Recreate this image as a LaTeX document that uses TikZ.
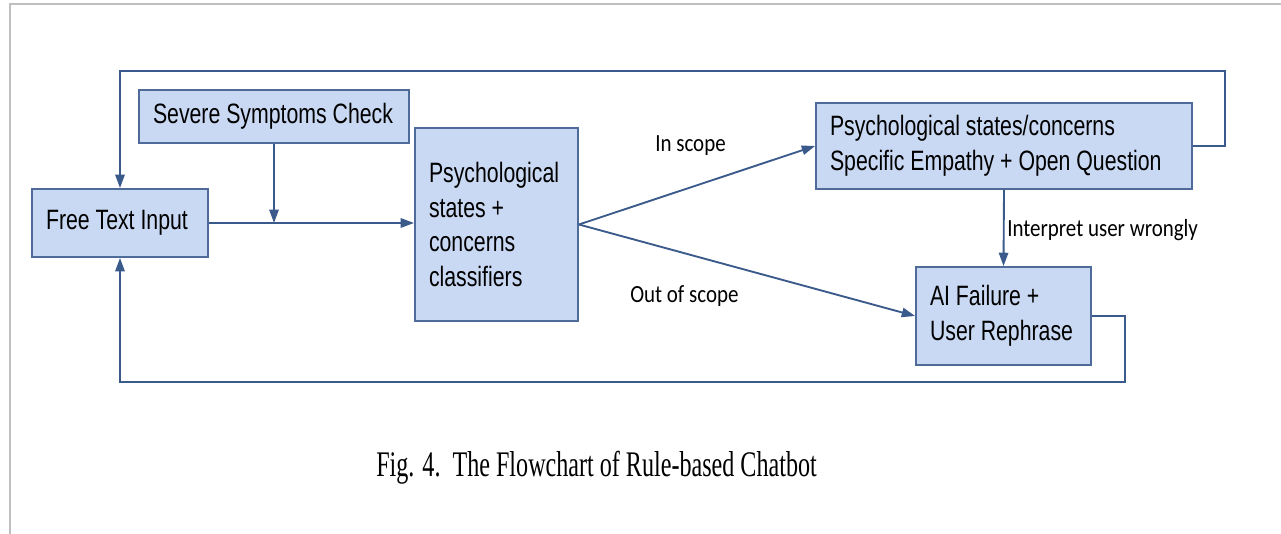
\documentclass[tikz,border=0pt]{standalone}
\usepackage{fontspec}
\usetikzlibrary{arrows.meta,calc}
\newfontfamily\boxfont[FakeStretch=0.76]{Liberation Sans}
\newfontfamily\lblfont[FakeStretch=0.85]{Carlito}
\newfontfamily\capfont[FakeStretch=0.67]{Liberation Serif}
\definecolor{boxfill}{HTML}{C9D9F3}
\definecolor{boxline}{HTML}{4F6B99}
\definecolor{flow}{HTML}{3A5A8C}
\definecolor{frame}{HTML}{BFBFBF}
\newcommand{\oneline}[1]{\mbox{#1}}
\tikzset{
  x=0.75pt, y=-0.75pt,
  stepbox/.style={draw=boxline, fill=boxfill, line width=1.4pt, rectangle,
    inner xsep=10.5pt, inner ysep=0pt, align=left,
    font=\boxfont\fontsize{21}{26}\selectfont,
    execute at begin node={\spaceskip=4.4pt\relax}},
  flowline/.style={draw=flow, line width=1.4pt},
  flowarrow/.style={flowline, -{Triangle[length=10pt,width=7pt]}},
  edgelabel/.style={anchor=base west, inner sep=0pt,
    font=\lblfont\fontsize{18.5}{22}\selectfont},
}
\begin{document}
\begin{tikzpicture}
\useasboundingbox (0,0) rectangle (1281,534);
% page frame
\draw[frame, line width=1.5pt] (10,534) -- (10,4) -- (1281,4);

% boxes
\node[stepbox, text width=242*0.75pt, minimum height=53*0.75pt] (sev) at (274,116.5) {\oneline{Severe Symptoms Check}};
\node[stepbox, text width=148*0.75pt, minimum height=68*0.75pt] (fti) at (120,223) {\oneline{Free Text Input}};
\node[stepbox, text width=135*0.75pt, minimum height=193*0.75pt] (cls) at (496.5,224.5) {\oneline{Psychological}\\\oneline{states +}\\\oneline{concerns}\\\oneline{classifiers}};
\node[stepbox, text width=348*0.75pt, minimum height=86*0.75pt] (psy) at (1004,146) {\oneline{Psychological states/concerns}\\\oneline{Specific Empathy + Open Question}};
\node[stepbox, text width=147*0.75pt, minimum height=98*0.75pt] (ai) at (1003.5,316) {\oneline{AI Failure +}\\\oneline{User Rephrase}};

% junction where the symptom check joins the input line
\coordinate (join) at (sev.south |- fti.east);
\coordinate (topR) at (1225,71);
\coordinate (topL) at (120,71);
\coordinate (botR) at (1125,382);
\coordinate (botL) at (120,382);

% connectors
\draw[flowarrow] (fti.east) -- (fti.east -| cls.west);
\draw[flowarrow] (sev.south) -- (join);
\draw[flowarrow] (cls.east) -- (psy.west);
\draw[flowarrow] (cls.east) -- (ai.west);
\draw[flowarrow] (psy.south) -- (ai.north);
\draw[flowarrow] (psy.east) -- (psy.east -| topR) -- (topR) -- (topL) -- (fti.north);
\draw[flowarrow] (ai.east) -- (ai.east -| botR) -- (botR) -- (botL) -- (fti.south);

% labels
\node[edgelabel] (inscope) at (655,152) {In scope};
\node[edgelabel] (outscope) at (630,303) {Out of scope};
\node[edgelabel] (wrong) at (1007,237) {Interpret user wrongly};

% caption
\node[anchor=base west, inner sep=0pt, font=\capfont\fontsize{27}{32}\selectfont,
  execute at begin node={\spaceskip=4.5pt\relax}] (caption) at (376,476) {Fig. 4.\hspace{9pt}The Flowchart of Rule-based Chatbot};
\end{tikzpicture}
\end{document}
